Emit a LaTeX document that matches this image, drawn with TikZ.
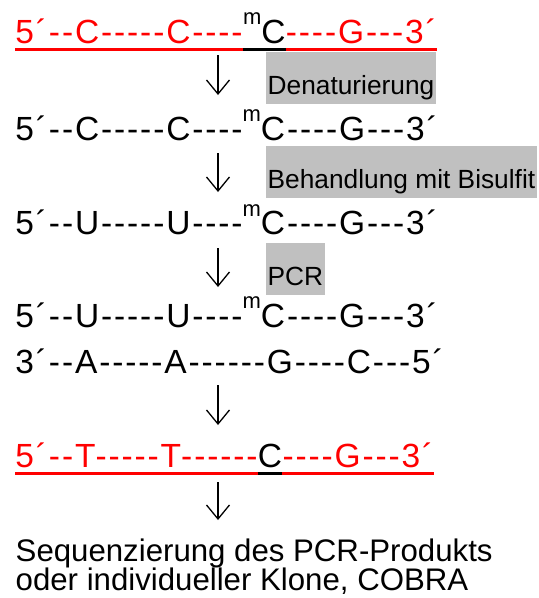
\documentclass[tikz,border=0pt]{standalone}
\usepackage{fontspec}
\setmainfont{Liberation Sans}
\newfontfamily\seqfont[LetterSpace=5.6]{Liberation Sans}
\usetikzlibrary{arrows.meta}
\definecolor{boxgray}{RGB}{192,192,192}
\definecolor{dnared}{RGB}{255,0,0}
\newcommand\supm{\raisebox{18.5pt}{\fontsize{22}{22}\selectfont m}}
\tikzset{
  seq/.style={inner sep=0pt, anchor=base west, font=\seqfont\fontsize{33.5}{40}\selectfont},
  lbl/.style={fill=boxgray, inner xsep=1.5pt, inner ysep=2pt, text height=40pt, text depth=8pt,
    anchor=base west, font=\fontsize{26.3}{30}\selectfont},
  bottomtxt/.style={inner sep=0pt, anchor=base west, font=\fontsize{31.2}{38}\selectfont},
  stepar/.style={line width=1.3pt, -{Straight Barb[length=14pt,width=23pt,line width=1.3pt]}},
  ulred/.style={dnared, line width=3.3pt},
  ulblack/.style={black, line width=3.3pt}
}
\begin{document}
\begin{tikzpicture}[x=1pt,y=-1pt]
\useasboundingbox (0,0) rectangle (539,598);
% line 1 (red, underlined)
\node[seq, text=dnared] (l1a) at (15.3,43.3) {5´--C-----C----};
\node[seq] (l1b) at (l1a.base east) {\supm C};
\node[seq, text=dnared] (l1c) at (l1b.base east) {----G---3´};
\draw[ulred] ([yshift=-6pt]l1a.base west) -- ([yshift=-6pt]l1a.base east);
\draw[ulblack] ([yshift=-6pt]l1b.base west) -- ([yshift=-6pt]l1b.base east);
\draw[ulred] ([yshift=-6pt]l1c.base west) -- ([yshift=-6pt]l1c.base east);
% step 1
\coordinate (a1s) at (218,55);
\coordinate (a1e) at (218,95);
\draw[stepar] (a1s) -- (a1e);
\node[lbl] (b1) at (266,94) {Denaturierung};
% line 2
\node[seq] (l2) at (15.3,140) {5´--C-----C----\supm C----G---3´};
% step 2
\coordinate (a2s) at (218,153);
\coordinate (a2e) at (218,192);
\draw[stepar] (a2s) -- (a2e);
\node[lbl] (b2) at (266,188) {Behandlung mit Bisulfit};
% line 3
\node[seq] (l3) at (15.3,234.5) {5´--U-----U----\supm C----G---3´};
% step 3
\coordinate (a3s) at (218,248);
\coordinate (a3e) at (218,287);
\draw[stepar] (a3s) -- (a3e);
\node[lbl] (b3) at (266,285) {PCR};
% lines 4 and 5
\node[seq] (l4) at (15.3,327) {5´--U-----U----\supm C----G---3´};
\node[seq] (l5) at (15.3,373) {3´--A-----A------G----C---5´};
% step 4
\coordinate (a4s) at (218,385);
\coordinate (a4e) at (218,425);
\draw[stepar] (a4s) -- (a4e);
% line 6 (red, underlined)
\node[seq, text=dnared] (l6a) at (15.3,467) {5´--T-----T------};
\node[seq] (l6b) at (l6a.base east) {C};
\node[seq, text=dnared] (l6c) at (l6b.base east) {----G---3´};
\draw[ulred] ([yshift=-6.3pt]l6a.base west) -- ([yshift=-6.3pt]l6a.base east);
\draw[ulblack] ([yshift=-6.3pt]l6b.base west) -- ([yshift=-6.3pt]l6b.base east);
\draw[ulred] ([yshift=-6.3pt]l6c.base west) -- ([yshift=-6.3pt]l6c.base east);
% step 5
\coordinate (a5s) at (218,482);
\coordinate (a5e) at (218,520);
\draw[stepar] (a5s) -- (a5e);
% final text
\node[bottomtxt] (s1) at (15.5,561) {Sequenzierung des PCR-Produkts};
\node[bottomtxt] (s2) at (15.5,590.5) {oder individueller Klone, COBRA};
\end{tikzpicture}
\end{document}
